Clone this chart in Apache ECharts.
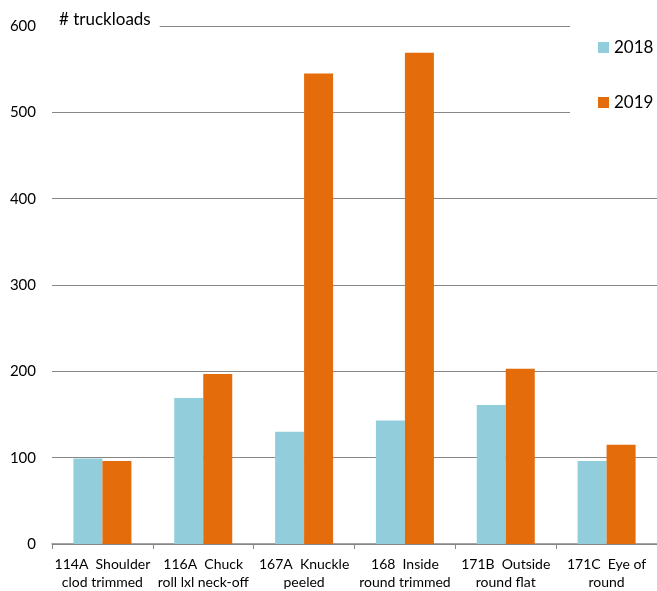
<!DOCTYPE html>
<html>
<head>
<meta charset="utf-8">
<script src="https://cdn.jsdelivr.net/npm/echarts@6/dist/echarts.min.js"></script>
<style>
  html, body { margin: 0; padding: 0; background: #fff; }
  #chart { width: 657px; height: 591px; }
</style>
</head>
<body>
<div id="chart"></div>
<script>
// Beef cuts, truckloads shipped per year
const categories = [
  '114A  Shoulder\nclod trimmed',
  '116A  Chuck\nroll lxl neck-off',
  '167A  Knuckle\npeeled',
  '168  Inside\nround trimmed',
  '171B  Outside\nround flat',
  '171C  Eye of\nround'
];
const loads2018 = [99, 169, 130, 143, 161, 96];
const loads2019 = [96, 197, 545, 569, 203, 115];
const yTicks = { min: 0, max: 600, interval: 100 };

const FONT = 'Lato';
const chart = echarts.init(document.getElementById('chart'));
chart.setOption({
  animation: false,
  backgroundColor: '#fff',
  textStyle: { fontFamily: FONT, color: '#000' },
  title: {
    text: '# truckloads',
    left: 52,
    top: 8,
    padding: [3, 9, 3, 7],
    backgroundColor: '#fff',
    z: 10,
    textStyle: { fontFamily: FONT, fontSize: 17, fontWeight: 'normal', color: '#000' }
  },
  legend: {
    orient: 'vertical',
    left: 570,
    top: 18,
    padding: [21, 10, 14, 28],
    backgroundColor: '#fff',
    itemWidth: 11,
    itemHeight: 11,
    itemGap: 38,
    icon: 'rect',
    z: 10,
    textStyle: { fontFamily: FONT, fontSize: 17, color: '#000', padding: [0, 0, 0, 0] },
    data: ['2018', '2019']
  },
  grid: { left: 52, top: 26, width: 609, height: 518, containLabel: false },
  xAxis: {
    type: 'category',
    data: categories,
    axisLine: { lineStyle: { color: '#878787', width: 1.5 } },
    axisTick: { show: true, length: 5, lineStyle: { color: '#878787' } },
    axisLabel: {
      interval: 0,
      margin: 11,
      fontFamily: FONT,
      fontSize: 14,
      lineHeight: 18,
      color: '#000'
    },
    splitLine: { show: false }
  },
  yAxis: {
    type: 'value',
    min: yTicks.min,
    max: yTicks.max,
    interval: yTicks.interval,
    axisLine: { show: false },
    axisTick: { show: false },
    axisLabel: { margin: 16, fontFamily: FONT, fontSize: 15, color: '#000' },
    splitLine: { lineStyle: { color: '#878787', width: 1.2 } }
  },
  series: [
    {
      name: '2018',
      type: 'bar',
      data: loads2018,
      barWidth: 29,
      barGap: '0%',
      itemStyle: { color: '#92CDDC' }
    },
    {
      name: '2019',
      type: 'bar',
      data: loads2019,
      barWidth: 29,
      barGap: '0%',
      itemStyle: { color: '#E46C0A' }
    }
  ]
});
</script>
</body>
</html>
